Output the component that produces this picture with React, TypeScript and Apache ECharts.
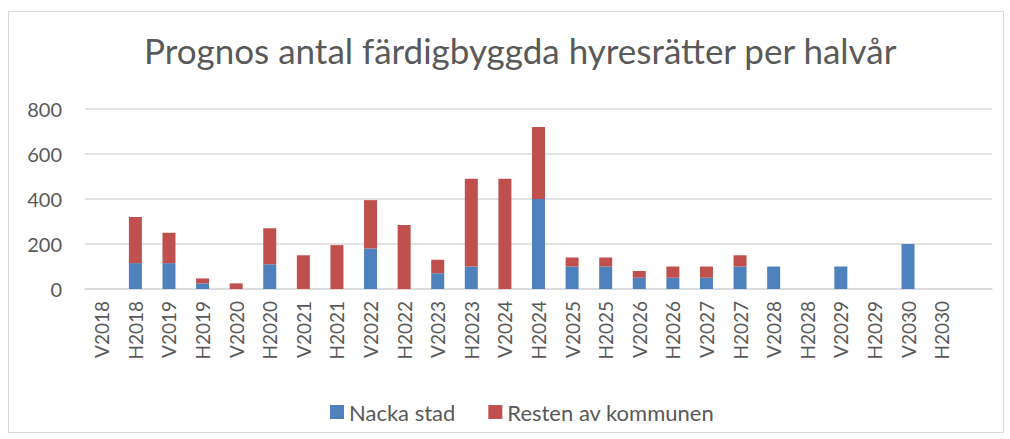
import React, { useEffect, useRef } from "react";
import * as echarts from "echarts";

const categories = [
  "V2018", "H2018", "V2019", "H2019", "V2020", "H2020", "V2021", "H2021",
  "V2022", "H2022", "V2023", "H2023", "V2024", "H2024", "V2025", "H2025",
  "V2026", "H2026", "V2027", "H2027", "V2028", "H2028", "V2029", "H2029",
  "V2030", "H2030", "",
];
const nackaStad = [
  0, 115, 115, 25, 0, 110, 0, 0, 180, 0, 70, 100, 0, 400, 100, 100,
  50, 50, 50, 100, 100, 0, 100, 0, 200, 0, 0,
];
const restenAvKommunen = [
  0, 205, 135, 22, 25, 160, 150, 195, 215, 285, 60, 390, 490, 320, 40, 40,
  30, 50, 50, 50, 0, 0, 0, 0, 0, 0, 0,
];
const yTicks = { min: 0, max: 800, interval: 200 };

const TEXT = "#595959";
const FONT = "Lato, 'Open Sans', sans-serif";

export default function App() {
  const ref = useRef<HTMLDivElement>(null);
  useEffect(() => {
    if (!ref.current) return;
    const chart = echarts.init(ref.current, undefined, { renderer: "svg" });
    chart.setOption({
      animation: false,
      backgroundColor: "#ffffff",
      textStyle: { fontFamily: FONT, color: TEXT },
      title: {
        text: "Prognos antal färdigbyggda hyresrätter per halvår",
        left: 139,
        top: 27,
        textStyle: { fontFamily: FONT, fontSize: 35, fontWeight: "normal", color: TEXT },
      },
      legend: {
        left: 325,
        top: 396,
        itemWidth: 14,
        itemHeight: 14,
        itemGap: 33,
        icon: "rect",
        textStyle: { fontFamily: FONT, fontSize: 22, color: TEXT },
        data: ["Nacka stad", "Resten av kommunen"],
      },
      grid: { left: 85, right: 18, top: 109, bottom: 150 },
      xAxis: {
        type: "category",
        data: categories,
        axisLine: { lineStyle: { color: "#d9d9d9", width: 1.5 } },
        axisTick: { show: false },
        axisLabel: {
          rotate: 90,
          interval: 0,
          margin: 12,
          fontFamily: FONT,
          fontSize: 19,
          color: TEXT,
        },
      },
      yAxis: {
        type: "value",
        min: yTicks.min,
        max: yTicks.max,
        interval: yTicks.interval,
        axisLine: { show: false },
        axisTick: { show: false },
        axisLabel: { fontFamily: FONT, fontSize: 20, color: TEXT, margin: 23 },
        splitLine: { lineStyle: { color: "#d9d9d9", width: 1.5 } },
      },
      series: [
        {
          name: "Nacka stad",
          type: "bar",
          stack: "total",
          barWidth: 13,
          itemStyle: { color: "#4F81BD" },
          data: nackaStad,
        },
        {
          name: "Resten av kommunen",
          type: "bar",
          stack: "total",
          barWidth: 13,
          itemStyle: { color: "#C0504D" },
          data: restenAvKommunen,
        },
      ],
    });
    return () => chart.dispose();
  }, []);
  return (
    <div style={{ position: "absolute", left: 0, top: 0, width: 1010, height: 439, background: "#fff" }}>
      <div ref={ref} style={{ position: "absolute", left: 0, top: 0, width: 1010, height: 439 }} />
      <div
        style={{
          position: "absolute",
          left: 8,
          top: 11,
          width: 994,
          height: 420,
          border: "1px solid #d9d9d9",
          pointerEvents: "none",
        }}
      />
    </div>
  );
}
